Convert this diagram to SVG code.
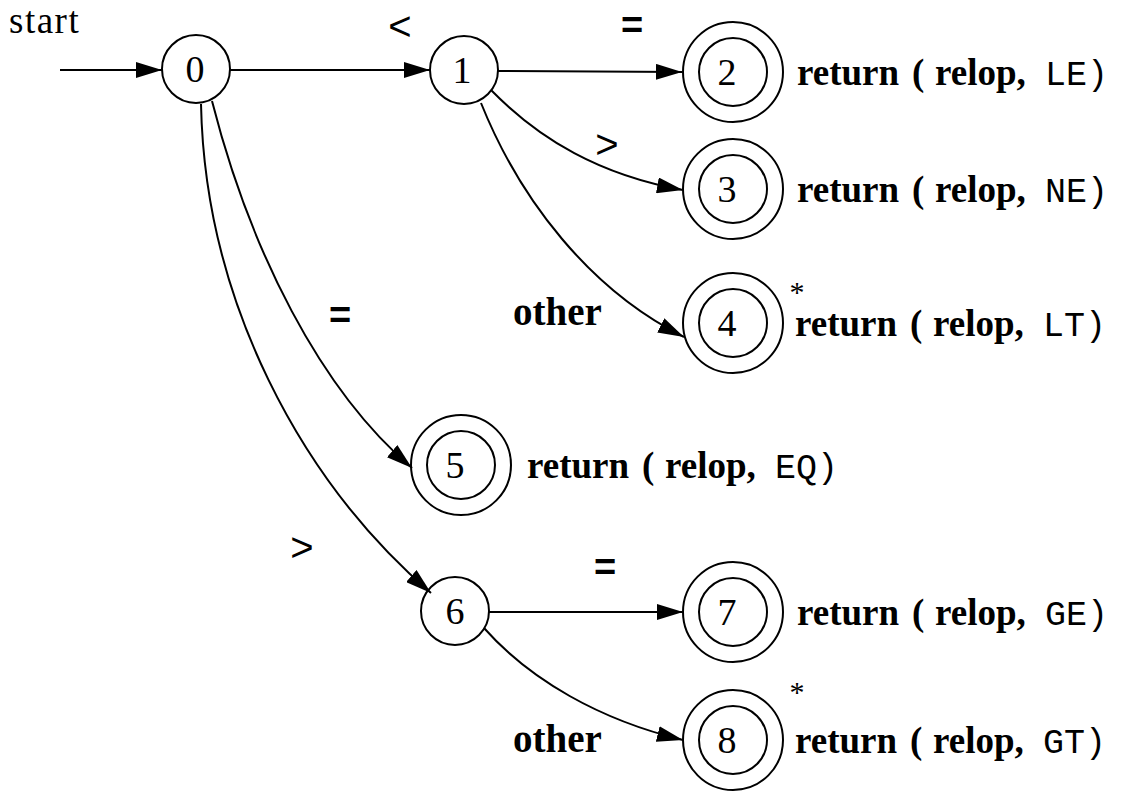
<svg xmlns="http://www.w3.org/2000/svg" width="1137" height="799" viewBox="0 0 1137 799">
<defs>
<style>
.st{fill:none;stroke:#000;stroke-width:2}
.ed{fill:none;stroke:#000;stroke-width:2;marker-end:url(#ah)}
.num{font-family:"Liberation Serif",serif;font-size:38px;text-anchor:middle}
.lab{font-family:"Liberation Sans",sans-serif;font-size:40px;text-anchor:middle}
.eq{font-family:"Liberation Sans",sans-serif;font-size:38px;font-weight:bold;text-anchor:middle}
.b{font-family:"Liberation Serif",serif;font-size:37px;font-weight:bold}
.o{font-family:"Liberation Serif",serif;font-size:39px;font-weight:bold}
.m{font-family:"Liberation Mono",monospace;font-size:35px}
.reg{font-family:"Liberation Serif",serif;font-size:37px;letter-spacing:1.5px}
.ast{font-family:"Liberation Serif",serif;font-size:30px;text-anchor:middle}
</style>
<marker id="ah" viewBox="0 0 26 16" refX="26" refY="8" markerWidth="26" markerHeight="16" markerUnits="userSpaceOnUse" orient="auto">
<path d="M0,0 L26,8 L0,16 Z" fill="#000"/>
</marker>
</defs>
<rect width="1137" height="799" fill="#fff"/>
<text class="reg" x="9" y="33">start</text>
<g id="edges">
<line class="ed" x1="60" y1="70" x2="162" y2="70"/>
<line class="ed" x1="230" y1="70" x2="430" y2="70"/>
<line class="ed" x1="497" y1="71" x2="682" y2="72"/>
<path class="ed" d="M491,90 C540,140 600,175 683,190"/>
<path class="ed" d="M481,103 C520,200 590,290 684,337"/>
<path class="ed" d="M212,101 C250,250 320,390 412,468"/>
<path class="ed" d="M201,104 C205,300 300,480 431,593"/>
<line class="ed" x1="489" y1="612" x2="683" y2="612"/>
<path class="ed" d="M484,628 C530,680 600,720 683,740"/>
<text class="lab" x="400" y="40">&lt;</text>
<text class="eq" x="632" y="38">=</text>
<text class="lab" x="607" y="158">&gt;</text>
<text class="o" x="513" y="325">other</text>
<text class="eq" x="340" y="328">=</text>
<text class="lab" x="302" y="561">&gt;</text>
<text class="eq" x="605" y="580">=</text>
<text class="o" x="513" y="752">other</text>
</g>
<g id="n0"><circle class="st" cx="196" cy="69" r="34"/><text class="num" x="195" y="82">0</text></g>
<g id="n1"><circle class="st" cx="464" cy="70" r="34"/><text class="num" x="462" y="83">1</text></g>
<g id="n2"><circle class="st" cx="733" cy="72" r="50"/><circle class="st" cx="733" cy="72" r="34"/><text class="num" x="727" y="85">2</text>
<text x="797" y="85"><tspan class="b">return</tspan><tspan class="b" x="912">(</tspan><tspan class="b" x="935">relop,</tspan><tspan class="m" x="1045">LE)</tspan></text></g>
<g id="n3"><circle class="st" cx="733" cy="189" r="50"/><circle class="st" cx="733" cy="189" r="34"/><text class="num" x="727" y="202">3</text>
<text x="797" y="202"><tspan class="b">return</tspan><tspan class="b" x="912">(</tspan><tspan class="b" x="935">relop,</tspan><tspan class="m" x="1045">NE)</tspan></text></g>
<g id="n4"><circle class="st" cx="733" cy="323" r="50"/><circle class="st" cx="733" cy="323" r="34"/><text class="num" x="727" y="336">4</text>
<text class="ast" x="797" y="302">*</text>
<text x="795" y="336"><tspan class="b">return</tspan><tspan class="b" x="910">(</tspan><tspan class="b" x="933">relop,</tspan><tspan class="m" x="1043">LT)</tspan></text></g>
<g id="n5"><circle class="st" cx="461" cy="465" r="50"/><circle class="st" cx="461" cy="465" r="34"/><text class="num" x="455" y="478">5</text>
<text x="527" y="478"><tspan class="b">return</tspan><tspan class="b" x="642">(</tspan><tspan class="b" x="665">relop,</tspan><tspan class="m" x="775">EQ)</tspan></text></g>
<g id="n6"><circle class="st" cx="455" cy="611" r="34"/><text class="num" x="455" y="624">6</text></g>
<g id="n7"><circle class="st" cx="733" cy="612" r="50"/><circle class="st" cx="733" cy="612" r="34"/><text class="num" x="727" y="625">7</text>
<text x="797" y="625"><tspan class="b">return</tspan><tspan class="b" x="912">(</tspan><tspan class="b" x="935">relop,</tspan><tspan class="m" x="1045">GE)</tspan></text></g>
<g id="n8"><circle class="st" cx="733" cy="740" r="50"/><circle class="st" cx="733" cy="740" r="34"/><text class="num" x="727" y="753">8</text>
<text class="ast" x="797" y="702">*</text>
<text x="795" y="753"><tspan class="b">return</tspan><tspan class="b" x="910">(</tspan><tspan class="b" x="933">relop,</tspan><tspan class="m" x="1043">GT)</tspan></text></g>
</svg>
